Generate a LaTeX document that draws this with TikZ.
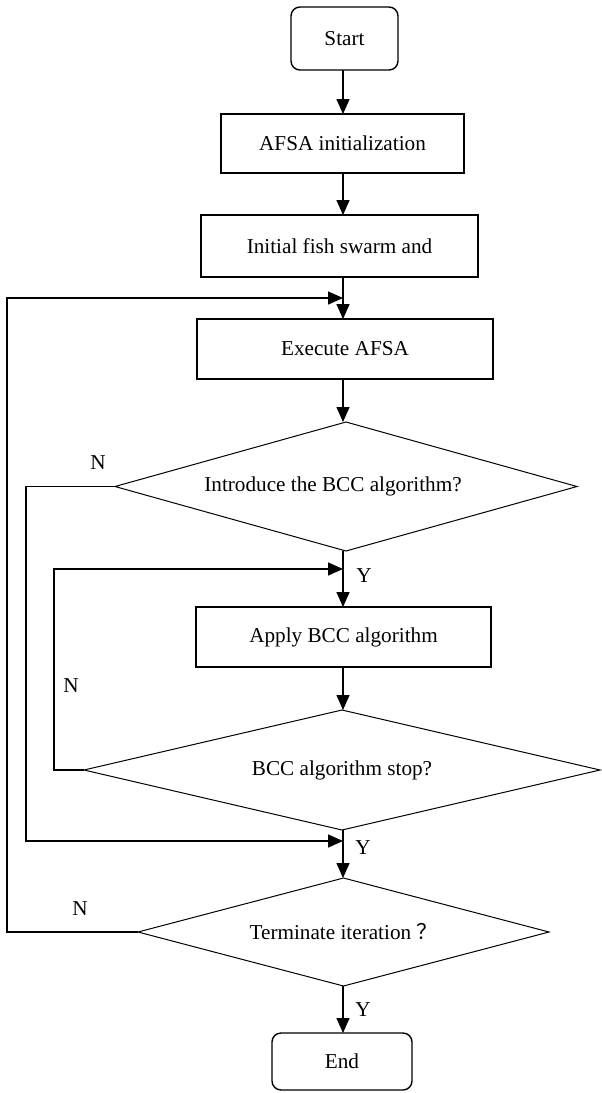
\documentclass[tikz,border=0pt]{standalone}
\usepackage{fontspec}
\setmainfont{Liberation Serif}
\newfontfamily\cjk{Noto Sans CJK SC}
\usetikzlibrary{shapes.geometric,arrows.meta}

\begin{document}
\begin{tikzpicture}[x=0.5pt,y=-0.5pt,
  font=\fontsize{10.6}{13}\selectfont,
  every node/.style={inner sep=0pt, outer sep=0pt},
  procbox/.style={draw, line width=0.7pt, rectangle},
  termbox/.style={draw, line width=0.7pt, rectangle, rounded corners=4.5pt},
  decision/.style={draw, line width=0.5pt, diamond, aspect=3.6},
  flow/.style={line width=0.75pt, -{Triangle[length=7.5pt,width=6.5pt]}},
  yn/.style={font=\fontsize{10.6}{13}\selectfont}
]
\useasboundingbox (0,0) rectangle (601,1093);

% main column of steps
\node[termbox, minimum width=53.5pt, minimum height=31.5pt] (start) at (344.5,38.5) {Start};
\node[procbox, minimum width=121.5pt, minimum height=29.5pt] (init) at (342.5,143.5) {AFSA initialization};
\node[procbox, minimum width=138.5pt, minimum height=31pt] (fish) at (339.5,246) {Initial fish swarm and};
\node[procbox, minimum width=148pt, minimum height=30pt] (exec) at (345,349) {Execute AFSA};
\node[decision, minimum width=231pt, minimum height=64.5pt] (d1) at (346,486.5) {Introduce the BCC algorithm?\hspace*{13pt}};
\node[procbox, minimum width=147.5pt, minimum height=30pt] (apply) at (343.5,637) {Apply BCC algorithm};
\node[decision, minimum width=258pt, minimum height=60pt] (d2) at (342,770) {BCC algorithm stop?};
\node[decision, minimum width=205.5pt, minimum height=54pt] (d3) at (343.5,932) {Terminate iteration\kern2.5pt{\cjk ？}};
\node[termbox, minimum width=70pt, minimum height=28.5pt] (end) at (342,1061.5) {End};

% junction points where loops re-enter the main column
\coordinate (j1) at (343,298);
\coordinate (j2) at (343,569);
\coordinate (j3) at (343,841);

% straight flow
\draw[flow] (start.south -| 343,0) -- (init.north -| 343,0);
\draw[flow] (init.south -| 343,0) -- (fish.north -| 343,0);
\draw[flow] (fish.south -| 343,0) -- (exec.north -| 343,0);
\draw[flow] (exec.south -| 343,0) -- (d1.north -| 343,0);
\draw[flow] (d1.south -| 343,0) -- (apply.north -| 343,0);
\draw[flow] (apply.south -| 343,0) -- (d2.north -| 343,0);
\draw[flow] (d2.south -| 343,0) -- (d3.north -| 343,0);
\draw[flow] (d3.south -| 343,0) -- (end.north -| 343,0);

% loops back to the main column
\draw[flow] (d1.west) -- (26,486.5) -- (26,841) -- (j3);
\draw[flow] (d2.west) -- (54,770) -- (54,569) -- (j2);
\draw[flow] (d3.west) -- (7,932) -- (7,298) -- (j1);

% branch labels
\node[yn] (n1) at (98,463) {N};
\node[yn] (n2) at (71,686) {N};
\node[yn] (n3) at (80,909) {N};
\node[yn] (y1) at (364,576) {Y};
\node[yn] (y2) at (363,848) {Y};
\node[yn] (y3) at (363,1010) {Y};
\end{tikzpicture}
\end{document}
